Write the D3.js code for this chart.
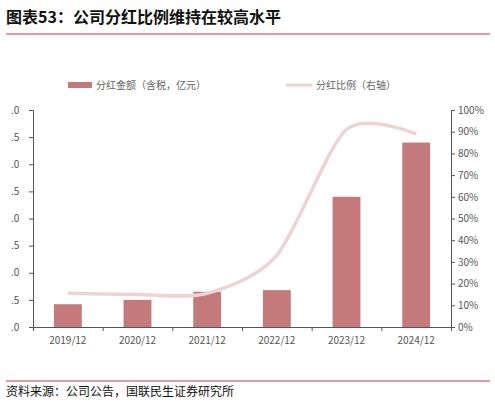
<!DOCTYPE html><html><head><meta charset="utf-8"><script src="https://cdn.jsdelivr.net/npm/d3@7"></script>
<style>body{margin:0;background:#fff}text{font-family:"Noto Sans CJK SC",sans-serif}</style></head><body><svg id="c" width="495" height="404"></svg><script>
const categories=["2019/12","2020/12","2021/12","2022/12","2023/12","2024/12"];
const amounts=[0.42,0.50,0.65,0.68,2.40,3.40];
const ratios=[0.155,0.15,0.155,0.33,0.91,0.89];
const leftTicks=[0,0.5,1,1.5,2,2.5,3,3.5,4];
const rightTicks=[0,0.1,0.2,0.3,0.4,0.5,0.6,0.7,0.8,0.9,1];
const svg=d3.select("#c");
const L=33,R=451,T=110,B=327;
svg.append("text").attr("x",6).attr("y",23).attr("font-size",16).attr("font-weight","bold").attr("fill","#111").text("图表53：公司分红比例维持在较高水平");
svg.append("line").attr("x1",6).attr("x2",490).attr("y1",34).attr("y2",34).attr("stroke","#d6324e").attr("stroke-width",1.2);
const x=d3.scaleBand().domain(categories).range([L,R]).paddingInner(0.6).paddingOuter(0.3);
const yL=d3.scaleLinear().domain([0,4]).range([B,T]);
const yR=d3.scaleLinear().domain([0,1]).range([B,T]);
svg.selectAll("rect.b").data(amounts).join("rect").attr("x",(d,i)=>x(categories[i])).attr("width",x.bandwidth()).attr("y",d=>yL(d)).attr("height",d=>B-yL(d)).attr("fill","#c47a7a");
const line=d3.line().x((d,i)=>x(categories[i])+x.bandwidth()/2).y(d=>yR(d)).curve(d3.curveCardinal.tension(0.2));
svg.append("path").datum(ratios).attr("d",line).attr("fill","none").attr("stroke","#efd3d3").attr("stroke-width",3.5);
const ax=svg.append("g").attr("transform",`translate(0,${B})`).call(d3.axisBottom(d3.scalePoint().domain(d3.range(7)).range([L,R])).tickFormat("").tickSize(4));
ax.selectAll("line,path").attr("stroke","#555");
categories.forEach(c=>svg.append("text").attr("x",x(c)+x.bandwidth()/2).attr("y",B+17).attr("text-anchor","middle").attr("font-size",10).attr("fill","#555").attr("font-family","Arial,sans-serif").text(c));
const al=svg.append("g").attr("transform",`translate(${L},0)`).call(d3.axisLeft(yL).tickValues(leftTicks).tickSize(4).tickFormat(d=>d3.format(".1f")(d).slice(1)));
al.selectAll("line,path").attr("stroke","#555");al.selectAll("text").attr("font-size",10).attr("fill","#555").attr("x",-22).attr("text-anchor","start");
const ar=svg.append("g").attr("transform",`translate(${R},0)`).call(d3.axisRight(yR).tickValues(rightTicks).tickSize(4).tickFormat(d3.format(".0%")));
ar.selectAll("line,path").attr("stroke","#555");ar.selectAll("text").attr("font-size",10).attr("fill","#555").attr("font-family","Arial,sans-serif");
svg.append("rect").attr("x",68).attr("y",82).attr("width",24).attr("height",6).attr("fill","#c47a7a");
svg.append("text").attr("x",96).attr("y",89).attr("font-size",10).attr("fill","#666").text("分红金额（含税，亿元）");
svg.append("line").attr("x1",286).attr("x2",312).attr("y1",85).attr("y2",85).attr("stroke","#efd3d3").attr("stroke-width",3);
svg.append("text").attr("x",316).attr("y",89).attr("font-size",10).attr("fill","#666").text("分红比例（右轴）");
svg.append("line").attr("x1",6).attr("x2",490).attr("y1",381).attr("y2",381).attr("stroke","#d6324e").attr("stroke-width",1);
svg.append("text").attr("x",6).attr("y",396).attr("font-size",12).attr("fill","#111").text("资料来源：公司公告，国联民生证券研究所");
</script></body></html>
